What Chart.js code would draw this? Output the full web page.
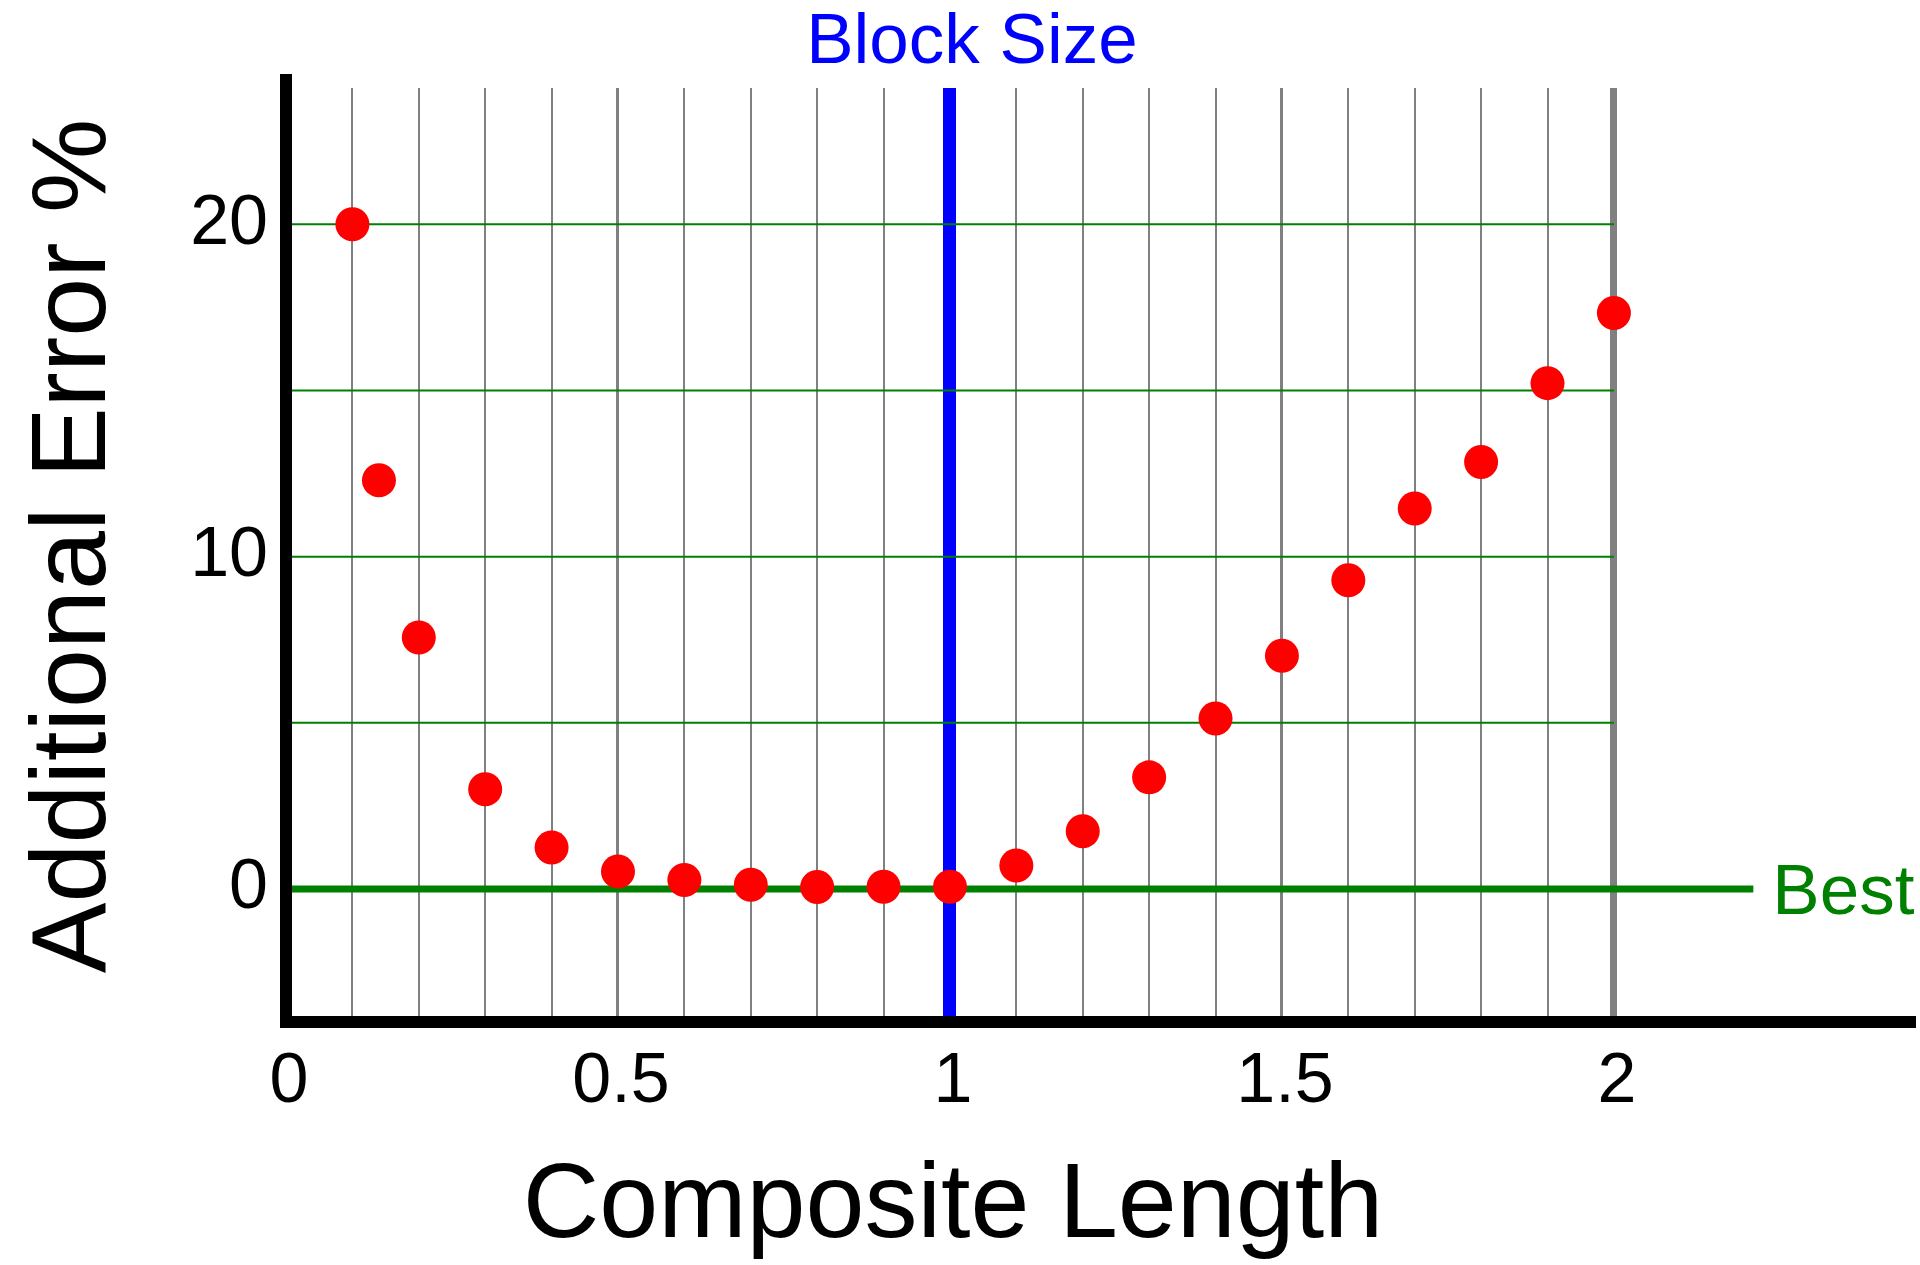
<!DOCTYPE html>
<html>
<head>
<meta charset="utf-8">
<script src="https://cdn.jsdelivr.net/npm/chart.js@4.4.1/dist/chart.umd.min.js"></script>
<style>
  html, body { margin: 0; padding: 0; background: #fff; overflow: hidden; }
  #wrap { width: 1920px; height: 1265px; }
  canvas { display: block; }
</style>
</head>
<body>
<div id="wrap"><canvas id="chart" width="1920" height="1265"></canvas></div>
<script>
  /* ---------- Data ---------- */
  const COMPOSITE_LENGTH = [0.1, 0.14, 0.2, 0.3, 0.4, 0.5, 0.6, 0.7, 0.8, 0.9, 1.0,
                            1.1, 1.2, 1.3, 1.4, 1.5, 1.6, 1.7, 1.8, 1.9, 2.0];
  const ADDITIONAL_ERROR = [20.0, 12.3, 7.57, 3.0, 1.25, 0.53, 0.27, 0.13, 0.06, 0.07, 0.07,
                            0.71, 1.74, 3.36, 5.13, 7.02, 9.29, 11.45, 12.85, 15.22, 17.33];
  const X_TICK_LABELS = [0, 0.5, 1, 1.5, 2];
  const Y_TICK_LABELS = [0, 10, 20];
  const GREEN_GRID_Y = [5, 10, 15, 20];
  const GRID_END_X = 2;
  const BLOCK_SIZE_X = 1;
  const BEST_Y = 0;
  const BEST_END_X = 2.21;

  const FONT = "'Liberation Sans', Arial, sans-serif";
  const GREEN = '#008000';
  const BLUE = '#0000ff';
  const GRAY = '#808080';

  const tenth = (v) => Math.round(v * 10);

  /* ---------- Datasets ---------- */
  const points = COMPOSITE_LENGTH.map((x, i) => ({ x, y: ADDITIONAL_ERROR[i] }));

  const datasets = [
    {
      label: 'Additional Error',
      data: points,
      backgroundColor: '#ff0000',
      borderWidth: 0,
      pointRadius: 17,
      pointHoverRadius: 17,
      showLine: false,
      order: 0,
    },
    {
      label: 'Best',
      data: [{ x: 0, y: BEST_Y }, { x: BEST_END_X, y: BEST_Y }],
      borderColor: GREEN,
      borderWidth: 7,
      pointRadius: 0,
      showLine: true,
      order: 1,
    },
  ];
  GREEN_GRID_Y.forEach((y) => {
    datasets.push({
      label: 'grid ' + y,
      data: [{ x: 0, y }, { x: GRID_END_X, y }],
      borderColor: GREEN,
      borderWidth: 2,
      pointRadius: 0,
      showLine: true,
      order: 2,
    });
  });

  /* ---------- Axis lines and free text ---------- */
  const decorations = {
    id: 'decorations',
    afterDraw(chart) {
      const { ctx, chartArea: a, scales } = chart;
      const xs = scales.x, ys = scales.y;
      ctx.save();

      // black axes
      ctx.strokeStyle = '#000';
      ctx.lineWidth = 12;
      ctx.lineCap = 'butt';
      ctx.beginPath();
      ctx.moveTo(a.left, 74);
      ctx.lineTo(a.left, a.bottom + 6);
      ctx.moveTo(a.left - 6, a.bottom);
      ctx.lineTo(a.right, a.bottom);
      ctx.stroke();

      // Block Size label
      ctx.fillStyle = BLUE;
      ctx.font = '71px ' + FONT;
      ctx.textAlign = 'center';
      ctx.textBaseline = 'alphabetic';
      ctx.fillText('Block Size', xs.getPixelForValue(BLOCK_SIZE_X) + 22, 63);

      // Best label
      ctx.fillStyle = GREEN;
      ctx.textAlign = 'left';
      ctx.fillText('Best', xs.getPixelForValue(BEST_END_X) + 19, ys.getPixelForValue(BEST_Y) + 25);

      // axis titles
      ctx.fillStyle = '#000';
      ctx.font = '106px ' + FONT;
      ctx.textAlign = 'center';
      ctx.fillText('Composite Length', xs.getPixelForValue(1) + 3, 1237);

      ctx.translate(105, (a.top + a.bottom) / 2 - 9);
      ctx.rotate(-Math.PI / 2);
      ctx.fillText('Additional Error %', 0, 0);

      ctx.restore();
    },
  };

  /* ---------- Chart ---------- */
  new Chart(document.getElementById('chart'), {
    type: 'scatter',
    data: { datasets },
    options: {
      responsive: false,
      devicePixelRatio: 1,
      animation: false,
      events: [],
      // big dots would otherwise add their radius as extra right padding
      layout: { autoPadding: false, padding: { top: 88, right: 4, bottom: 0, left: 0 } },
      plugins: { legend: { display: false }, tooltip: { enabled: false } },
      scales: {
        x: {
          type: 'linear',
          min: 0,
          max: 2.455,
          afterFit: (s) => { s.height = 243; },
          border: { display: false },
          grid: {
            drawTicks: false,
            color: (c) => {
              const v = tenth(c.tick.value);
              if (v <= 0 || v > 20) return 'rgba(0,0,0,0)';
              return v === tenth(BLOCK_SIZE_X) ? BLUE : GRAY;
            },
            lineWidth: (c) => {
              const v = tenth(c.tick.value);
              if (v === tenth(BLOCK_SIZE_X)) return 13;
              if (v === 20) return 7;
              if (v === 5 || v === 15) return 3;
              return 2;
            },
          },
          ticks: {
            stepSize: 0.1,
            autoSkip: false,
            maxRotation: 0,
            minRotation: 0,
            padding: 0,
            labelOffset: 3,
            color: '#000',
            // a tall line height pushes the labels down without adding side padding
            font: { family: FONT, size: 70, lineHeight: 122 / 70 },
            callback: (v) => (X_TICK_LABELS.some((t) => tenth(t) === tenth(v)) ? String(+v.toFixed(1)) : ''),
          },
        },
        y: {
          type: 'linear',
          min: -4,
          max: 24.1,
          afterFit: (s) => { s.width = 286; },
          border: { display: false },
          grid: { display: false, drawTicks: false },
          ticks: {
            stepSize: 10,
            autoSkip: false,
            padding: 18,
            color: '#000',
            font: { family: FONT, size: 70 },
            callback: (v) => (Y_TICK_LABELS.includes(v) ? String(v) : ''),
          },
        },
      },
    },
    plugins: [decorations],
  });
</script>
</body>
</html>
